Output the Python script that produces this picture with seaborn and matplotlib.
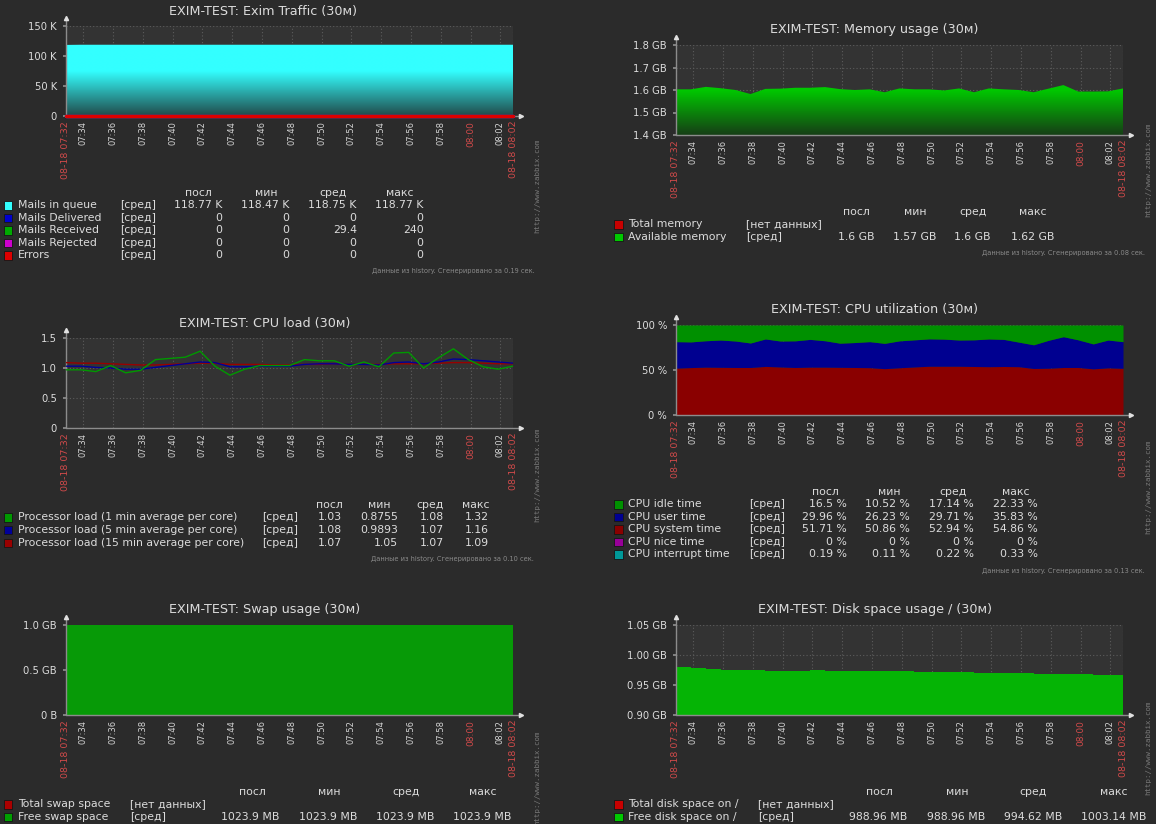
import numpy as np
import pandas as pd
import matplotlib
matplotlib.use("Agg")
import matplotlib.pyplot as plt
import matplotlib.dates as mdates
import matplotlib.colors as mcolors
from matplotlib.patches import Rectangle
import seaborn as sns

# ---------------- data ----------------
start = pd.Timestamp("2017-08-18 07:32:51")
end = start + pd.Timedelta(minutes=30)
times = pd.date_range(start, periods=31, freq="1min")
tick_times = pd.date_range("2017-08-18 07:34", "2017-08-18 08:02", freq="2min")

# Exim traffic
mails_queue = [118470] + [118770] * 30
mails_delivered = [0] * 31
mails_received = [0] * 31
mails_rejected = [0] * 31
mail_errors = [0] * 31

# Memory (GB)
mem_available = [1.603, 1.603, 1.614, 1.608, 1.600, 1.582, 1.605, 1.606, 1.610, 1.610,
                 1.613, 1.604, 1.600, 1.603, 1.590, 1.607, 1.603, 1.603, 1.598, 1.607,
                 1.590, 1.607, 1.603, 1.600, 1.590, 1.606, 1.622, 1.593, 1.593, 1.594, 1.607]

# CPU load
load1 = [0.97, 0.97, 0.94, 1.04, 0.92, 0.96, 1.14, 1.16, 1.18, 1.28, 1.03, 0.88, 0.98, 1.04,
         1.04, 1.04, 1.14, 1.12, 1.12, 1.03, 1.10, 1.02, 1.25, 1.26, 1.00, 1.17, 1.32, 1.14,
         1.02, 0.98, 1.03]
load5 = [1.03, 1.03, 1.01, 1.00, 0.98, 0.98, 1.01, 1.04, 1.07, 1.10, 1.09, 1.02, 1.02, 1.03,
         1.03, 1.03, 1.06, 1.07, 1.07, 1.06, 1.06, 1.05, 1.09, 1.10, 1.07, 1.10, 1.15, 1.14,
         1.12, 1.10, 1.08]
load15 = [1.09, 1.08, 1.08, 1.07, 1.06, 1.05, 1.05, 1.06, 1.07, 1.08, 1.08, 1.06, 1.06, 1.06,
          1.05, 1.05, 1.06, 1.06, 1.07, 1.06, 1.06, 1.06, 1.07, 1.07, 1.07, 1.08, 1.09, 1.09,
          1.08, 1.07, 1.07]

# CPU utilization (%)
cpu_interrupt = [0.2] * 31
cpu_system = [51.9, 52.5, 53.0, 52.8, 52.6, 52.6, 53.8, 53.2, 52.6, 53.0, 53.0, 52.8, 52.6,
              52.4, 51.3, 52.3, 53.2, 54.0, 54.0, 54.0, 53.7, 53.5, 53.7, 53.5, 51.5, 51.8,
              52.6, 52.6, 51.1, 52.2, 51.7]
cpu_user = [29.4, 28.5, 29.3, 30.3, 29.4, 27.2, 30.5, 28.8, 29.6, 30.8, 29.3, 26.8, 27.7,
            28.9, 28.1, 29.9, 30.1, 30.4, 30.1, 29.1, 29.6, 30.8, 30.1, 27.3, 26.3, 31.0,
            34.2, 30.7, 27.7, 30.9, 29.6]
cpu_nice = [0.0] * 31
cpu_idle = [18.5, 18.8, 17.5, 16.7, 17.8, 20.0, 15.5, 17.8, 17.6, 16.0, 17.5, 20.2, 19.5,
            18.5, 20.4, 17.6, 16.5, 15.4, 15.7, 16.7, 16.5, 15.5, 16.0, 19.0, 22.0, 17.0,
            13.0, 16.5, 21.0, 16.7, 18.5]

# Swap (GB)
swap_free = [1023.9 / 1024] * 31

# Disk (GB)
disk_free = [0.980, 0.978, 0.977, 0.9756, 0.9756, 0.9756, 0.9739, 0.9739, 0.9739, 0.9742,
             0.9728, 0.9728, 0.9728, 0.9728, 0.9728, 0.9728, 0.9710, 0.9710, 0.9710, 0.9710,
             0.9694, 0.9694, 0.9694, 0.9694, 0.9678, 0.9678, 0.9678, 0.9678, 0.9661, 0.9661,
             0.9661]

stat_headers = ["посл", "мин", "сред", "макс"]

exim_names = ["Mails in queue", "Mails Delivered", "Mails Received", "Mails Rejected", "Errors"]
exim_colors = ["#33FFFF", "#0000CC", "#00AA00", "#CC00CC", "#DD0000"]
exim_funcs = ["[сред]"] * 5
exim_stats = [["118.77 K", "118.47 K", "118.75 K", "118.77 K"], ["0", "0", "0", "0"],
              ["0", "0", "29.4", "240"], ["0", "0", "0", "0"], ["0", "0", "0", "0"]]

mem_names = ["Total memory", "Available memory"]
mem_colors = ["#C80000", "#00C800"]
mem_funcs = ["[нет данных]", "[сред]"]
mem_stats = [None, ["1.6 GB", "1.57 GB", "1.6 GB", "1.62 GB"]]

load_names = ["Processor load (1 min average per core)", "Processor load (5 min average per core)",
              "Processor load (15 min average per core)"]
load_colors = ["#009900", "#000099", "#990000"]
load_funcs = ["[сред]"] * 3
load_stats = [["1.03", "0.8755", "1.08", "1.32"], ["1.08", "0.9893", "1.07", "1.16"],
              ["1.07", "1.05", "1.07", "1.09"]]

cpu_names = ["CPU idle time", "CPU user time", "CPU system time", "CPU nice time", "CPU interrupt time"]
cpu_colors = ["#009000", "#000090", "#8A0000", "#990099", "#009999"]
cpu_funcs = ["[сред]"] * 5
cpu_stats = [["16.5 %", "10.52 %", "17.14 %", "22.33 %"], ["29.96 %", "26.23 %", "29.71 %", "35.83 %"],
             ["51.71 %", "50.86 %", "52.94 %", "54.86 %"], ["0 %", "0 %", "0 %", "0 %"],
             ["0.19 %", "0.11 %", "0.22 %", "0.33 %"]]

swap_names = ["Total swap space", "Free swap space"]
swap_colors = ["#AA0000", "#00A000"]
swap_funcs = ["[нет данных]", "[сред]"]
swap_stats = [None, ["1023.9 MB", "1023.9 MB", "1023.9 MB", "1023.9 MB"]]

disk_names = ["Total disk space on /", "Free disk space on /"]
disk_colors = ["#C80000", "#00C800"]
disk_funcs = ["[нет данных]", "[сред]"]
disk_stats = [None, ["988.96 MB", "988.96 MB", "994.62 MB", "1003.14 MB"]]

# ---------------- style ----------------
W, H = 1156, 824
BG = "#2b2b2b"
PLOT_BG = "#333333"
GRID = "#5c5c5c"
AXIS = "#8c8c8c"
TXT = "#dcdcdc"
RED = "#d04a4a"
FOOT = "#8a8a8a"

sns.set_theme(style="dark", rc={"figure.facecolor": BG, "axes.facecolor": PLOT_BG,
                                "text.color": TXT, "savefig.facecolor": BG})
plt.rcParams["font.family"] = ["DejaVu Sans"]

fig = plt.figure(figsize=(W / 100, H / 100), dpi=100)
fig.patch.set_facecolor(BG)

xs = mdates.date2num(times.to_pydatetime())


def T(x, y, s, **kw):
    kw.setdefault("color", TXT)
    fig.text(x / W, 1 - y / H, s, **kw)


def px_ax(x0, y0, x1, y1):
    ax = fig.add_axes([x0 / W, 1 - y1 / H, (x1 - x0) / W, (y1 - y0) / H])
    ax.set_facecolor(PLOT_BG)
    for s in ax.spines.values():
        s.set_visible(False)
    return ax


def finish_axes(ax, yticks, ylabels, ylim):
    ticks = [start] + list(tick_times) + [end]
    pos = mdates.date2num([t.to_pydatetime() for t in ticks])
    labels = []
    for i, t in enumerate(ticks):
        if i in (0, len(ticks) - 1):
            labels.append(t.strftime("%m-%d %H:%M"))
        else:
            labels.append(t.strftime("%H:%M"))
    ax.set_xticks(pos)
    ax.set_xticklabels(labels, rotation=90, fontsize=6)
    for i, (lab, t) in enumerate(zip(ax.get_xticklabels(), ticks)):
        if i in (0, len(ticks) - 1):
            lab.set_color(RED)
            lab.set_fontsize(6.8)
        elif t.minute == 0:
            lab.set_color(RED)
            lab.set_fontsize(6.5)
        else:
            lab.set_color("#d4d4d4")
    ax.tick_params(axis="x", length=0, pad=3.5)
    ax.set_xlim(pos[0], pos[-1])
    ax.set_ylim(*ylim)
    ax.set_yticks(yticks)
    ax.set_yticklabels(ylabels, fontsize=7.2, color=TXT)
    ax.tick_params(axis="y", length=2, color=AXIS, pad=4.5, left=True)
    ax.grid(True, color=GRID, linestyle=(0, (1, 2)), linewidth=0.8, zorder=1)
    ax.set_axisbelow(True)
    ax.set_xlabel("")
    ax.set_ylabel("")
    bh = ax.get_window_extent().height
    bw = ax.get_window_extent().width
    ax.plot([0, 0], [0, 1 + 8 / bh], transform=ax.transAxes, color=AXIS, lw=1,
            clip_on=False, zorder=3)
    ax.plot([0], [1 + 8 / bh], marker="^", ms=3, color="#e0e0e0", transform=ax.transAxes,
            clip_on=False, zorder=7)
    ax.plot([0, 1 + 8 / bw], [0, 0], transform=ax.transAxes, color=AXIS, lw=1,
            clip_on=False, zorder=3)
    ax.plot([1 + 8 / bw], [0], marker=">", ms=3, color="#e0e0e0", transform=ax.transAxes,
            clip_on=False, zorder=7)


def gradient_fill(ax, x, y, base, color, ylim):
    poly = ax.fill_between(x, y, base, facecolor="none", edgecolor="none")
    rgb = np.array(mcolors.to_rgb(color))
    dark = np.array(mcolors.to_rgb("#1c1c1c"))
    frac = np.linspace(0, 1, 256)
    k = np.clip(frac / 0.5, 0, 1)
    w = 0.2 + 0.8 * k
    cols = dark[None, :] * (1 - w[:, None]) + rgb[None, :] * w[:, None]
    img = cols[::-1][:, None, :]
    im = ax.imshow(img, extent=[x[0], x[-1], ylim[0], ylim[1]], aspect="auto",
                   interpolation="bilinear", zorder=2)
    im.set_clip_path(poly.get_paths()[0], transform=ax.transData)


def legend_block(names, colors, funcs, stats, sq_x, name_x, func_x, val_right, head_cx,
                 head_y, row_y0, dy=12.6):
    for hx, h in zip(head_cx, stat_headers):
        T(hx, head_y, h, fontsize=7.8, ha="center", va="center")
    for i, (n, c, f, st) in enumerate(zip(names, colors, funcs, stats)):
        y = row_y0 + i * dy
        fig.add_artist(Rectangle((sq_x / W, 1 - (y + 4.5) / H), 8.5 / W, 8.5 / H,
                                 transform=fig.transFigure, facecolor=c,
                                 edgecolor="#151515", lw=0.6))
        T(name_x, y, n, fontsize=7.8, ha="left", va="center")
        T(func_x, y, f, fontsize=7.8, ha="left", va="center")
        if st:
            for vx, v in zip(val_right, st):
                T(vx, y, v, fontsize=7.8, ha="right", va="center")


def footer(xr, y, secs):
    T(xr, y, "Данные из history. Сгенерировано за %s сек." % secs, fontsize=4.8,
      color=FOOT, ha="right", va="center")


def zabbix_mark(x, y):
    T(x, y, "http://www.zabbix.com", fontsize=5.3, color="#7a7a7a", rotation=90,
      ha="center", va="center", family="DejaVu Sans Mono")


# ---------------- Panel 1: Exim traffic ----------------
ax1 = px_ax(66, 26, 513, 116)
lim1 = (0, 150000)
gradient_fill(ax1, xs, np.array(mails_queue), 0, "#33FFFF", lim1)
df1 = pd.DataFrame({"t": np.tile(xs, 4),
                    "v": mails_delivered + mails_received + mails_rejected + mail_errors,
                    "s": np.repeat(exim_names[1:], 31)})
sns.lineplot(data=df1, x="t", y="v", hue="s", palette=dict(zip(exim_names[1:], exim_colors[1:])),
             hue_order=exim_names[1:], ax=ax1, legend=False, linewidth=2.4, zorder=5,
             clip_on=False)
finish_axes(ax1, [0, 50000, 100000, 150000], ["0", "50 K", "100 K", "150 K"], lim1)
T(263, 11.7, "EXIM-TEST: Exim Traffic (30м)", fontsize=9.2, ha="center", va="center")
legend_block(exim_names, exim_colors, exim_funcs, exim_stats, 4, 18, 120.5,
             [222.5, 289, 356.7, 423.5], [198, 265.8, 333, 400], 192.7, 205)
footer(535, 271, "0.19")
zabbix_mark(537, 186)

# ---------------- Panel 2: Memory ----------------
ax2 = px_ax(676, 45, 1123, 135)
lim2 = (1.4, 1.8)
gradient_fill(ax2, xs, np.array(mem_available), 1.4, "#00C800", lim2)
finish_axes(ax2, [1.4, 1.5, 1.6, 1.7, 1.8], ["1.4 GB", "1.5 GB", "1.6 GB", "1.7 GB", "1.8 GB"], lim2)
T(874.5, 30, "EXIM-TEST: Memory usage (30м)", fontsize=9.2, ha="center", va="center")
legend_block(mem_names, mem_colors, mem_funcs, mem_stats, 614, 628, 746,
             [874, 936.6, 991, 1054], [856, 915, 973.4, 1032.6], 211.7, 224, dy=12.7)
footer(1145, 253, "0.08")
zabbix_mark(1148, 170)

# ---------------- Panel 3: CPU load ----------------
ax3 = px_ax(66, 338, 513, 428)
lim3 = (0, 1.5)
df3 = pd.DataFrame({"t": np.tile(xs, 3), "v": load15 + load5 + load1,
                    "s": np.repeat([load_names[2], load_names[1], load_names[0]], 31)})
sns.lineplot(data=df3, x="t", y="v", hue="s", palette=dict(zip(load_names, load_colors)),
             hue_order=[load_names[2], load_names[1], load_names[0]],
             ax=ax3, legend=False, linewidth=1.0, zorder=4)
finish_axes(ax3, [0, 0.5, 1.0, 1.5], ["0", "0.5", "1.0", "1.5"], lim3)
T(265, 323, "EXIM-TEST: CPU load (30м)", fontsize=9.2, ha="center", va="center")
legend_block(load_names, load_colors, load_funcs, load_stats, 4, 18, 262.4,
             [341.6, 398.4, 443.9, 489], [328.9, 379.5, 430.4, 476], 505, 517.3)
footer(534, 559, "0.10")
zabbix_mark(537, 475)

# ---------------- Panel 4: CPU utilization ----------------
ax4 = px_ax(676, 325, 1123, 415)
lim4 = (0, 100)
ax4.stackplot(xs, cpu_interrupt, cpu_system, cpu_user, cpu_nice, cpu_idle,
              colors=[cpu_colors[4], cpu_colors[2], cpu_colors[1], cpu_colors[3], cpu_colors[0]],
              linewidth=0, zorder=2)
finish_axes(ax4, [0, 50, 100], ["0 %", "50 %", "100 %"], lim4)
T(874.5, 310, "EXIM-TEST: CPU utilization (30м)", fontsize=9.2, ha="center", va="center")
legend_block(cpu_names, cpu_colors, cpu_funcs, cpu_stats, 614, 628, 749,
             [846.7, 910, 974, 1037.6], [825, 889, 952.8, 1016], 491.7, 504)
footer(1145, 571, "0.13")
zabbix_mark(1148, 487)

# ---------------- Panel 5: Swap ----------------
ax5 = px_ax(66, 625, 513, 715)
lim5 = (0, 1.0)
ax5.fill_between(xs, swap_free, 0, color="#079a07", linewidth=0, zorder=2)
finish_axes(ax5, [0, 0.5, 1.0], ["0 B", "0.5 GB", "1.0 GB"], lim5)
T(264.5, 610, "EXIM-TEST: Swap usage (30м)", fontsize=9.2, ha="center", va="center")
legend_block(swap_names, swap_colors, swap_funcs, swap_stats, 4, 18, 130,
             [279.6, 357, 433.9, 511], [252, 328.9, 405.6, 482.8], 791.7, 804, dy=12.7)
zabbix_mark(537, 778)

# ---------------- Panel 6: Disk ----------------
ax6 = px_ax(676, 625, 1123, 715)
lim6 = (0.90, 1.05)
ax6.fill_between(xs, disk_free, 0.90, step="post", color="#05b405", linewidth=0, zorder=2)
finish_axes(ax6, [0.90, 0.95, 1.00, 1.05], ["0.90 GB", "0.95 GB", "1.00 GB", "1.05 GB"], lim6)
T(875, 610, "EXIM-TEST: Disk space usage / (30м)", fontsize=9.2, ha="center", va="center")
legend_block(disk_names, disk_colors, disk_funcs, disk_stats, 614, 628, 758,
             [907.7, 985, 1062, 1146], [879.5, 956.8, 1033, 1114], 791.7, 804, dy=12.7)
zabbix_mark(1148, 748)

fig.savefig("out.png", dpi=100, facecolor=BG)
